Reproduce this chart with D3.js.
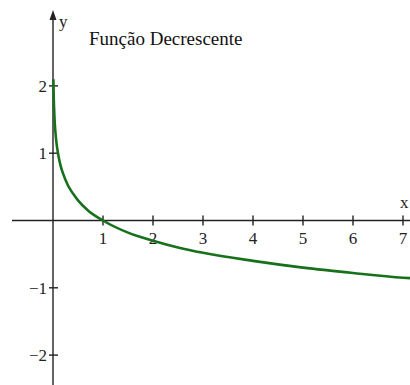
<!DOCTYPE html>
<html>
<head>
<meta charset="utf-8">
<script src="https://cdn.jsdelivr.net/npm/d3@7"></script>
<style>
  html, body { margin: 0; padding: 0; background: #fff; }
  svg { display: block; }
</style>
</head>
<body>
<svg id="chart" width="410" height="385"></svg>
<script>
// Decreasing function: sampled points along the curve
const curveX = [0.008, 0.01, 0.015, 0.02, 0.03, 0.05, 0.07, 0.1, 0.15, 0.2, 0.3, 0.4, 0.5, 0.7, 1, 1.5, 2, 2.5, 3, 4, 5, 6, 7, 7.2];
const curveY = [2.1, 2.0, 1.82, 1.7, 1.52, 1.3, 1.15, 1.0, 0.82, 0.7, 0.52, 0.4, 0.3, 0.15, 0, -0.18, -0.3, -0.4, -0.48, -0.6, -0.7, -0.78, -0.85, -0.86];

// Axis ticks and labels
const xTicks = [1, 2, 3, 4, 5, 6, 7];
const xTickLabels = ["1", "2", "3", "4", "5", "6", "7"];
const yTicks = [2, 1, -1, -2];
const yTickLabels = ["2", "1", "\u22121", "\u22122"];
const title = "Função Decrescente";

const svg = d3.select("#chart");
const W = 410, H = 385;

const x = d3.scaleLinear().domain([0, 1]).range([53, 103]);
const y = d3.scaleLinear().domain([0, 1]).range([220.5, 153.2]);

const axisColor = "#222";
const font = "'Liberation Serif', 'Times New Roman', serif";

// x axis line
svg.append("line")
  .attr("x1", 12).attr("x2", W)
  .attr("y1", y(0)).attr("y2", y(0))
  .attr("stroke", axisColor).attr("stroke-width", 1.4);

// y axis line
svg.append("line")
  .attr("x1", x(0)).attr("x2", x(0))
  .attr("y1", H).attr("y2", 16)
  .attr("stroke", axisColor).attr("stroke-width", 1.4);

// arrow head on the y axis
svg.append("path")
  .attr("d", `M${x(0)},10 L${x(0) - 3.5},20 L${x(0) + 3.5},20 Z`)
  .attr("fill", axisColor);

// x ticks
svg.append("g").selectAll("line").data(xTicks).join("line")
  .attr("x1", d => x(d)).attr("x2", d => x(d))
  .attr("y1", y(0) - 5).attr("y2", y(0) + 5)
  .attr("stroke", axisColor).attr("stroke-width", 1.4);

svg.append("g").selectAll("text").data(xTicks).join("text")
  .attr("x", d => x(d)).attr("y", y(0) + 23)
  .attr("text-anchor", "middle")
  .attr("font-family", font).attr("font-size", 17)
  .attr("fill", "#222")
  .text((d, i) => xTickLabels[i]);

// y ticks
svg.append("g").selectAll("line").data(yTicks).join("line")
  .attr("x1", x(0) - 4).attr("x2", x(0) + 5)
  .attr("y1", d => y(d)).attr("y2", d => y(d))
  .attr("stroke", axisColor).attr("stroke-width", 1.4);

svg.append("g").selectAll("text").data(yTicks).join("text")
  .attr("x", x(0) - 6).attr("y", d => y(d) + 6)
  .attr("text-anchor", "end")
  .attr("font-family", font).attr("font-size", 17)
  .attr("fill", "#222")
  .text((d, i) => yTickLabels[i]);

// axis names
svg.append("text")
  .attr("x", 59).attr("y", 27)
  .attr("font-family", font).attr("font-size", 17)
  .attr("fill", "#222").text("y");
svg.append("text")
  .attr("x", 400).attr("y", 208)
  .attr("font-family", font).attr("font-size", 17)
  .attr("fill", "#222").text("x");

// title
svg.append("text")
  .attr("x", 89).attr("y", 45)
  .attr("font-family", font).attr("font-size", 19)
  .attr("fill", "#111").text(title);

// the curve
const pts = curveX.map((v, i) => [v, curveY[i]]);
const line = d3.line()
  .x(d => x(d[0]))
  .y(d => y(d[1]))
  .curve(d3.curveMonotoneX);

svg.append("path")
  .datum(pts)
  .attr("d", line)
  .attr("fill", "none")
  .attr("stroke", "#17701a")
  .attr("stroke-width", 2.6)
  .attr("stroke-linecap", "butt");
</script>
</body>
</html>
